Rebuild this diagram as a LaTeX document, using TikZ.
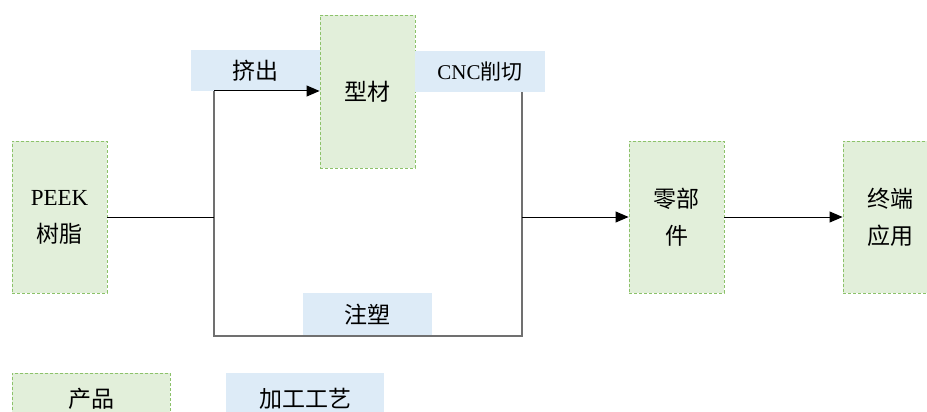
\documentclass[tikz,border=0pt]{standalone}
\usepackage{fontspec}
\setmainfont{Liberation Serif}
\newfontfamily\cjk{Noto Sans CJK SC}
\usetikzlibrary{arrows.meta}
\definecolor{gfill}{HTML}{E2EFDA}
\definecolor{gline}{HTML}{8CC26A}
\definecolor{bfill}{HTML}{DDEBF7}
\definecolor{bracket}{HTML}{707070}
\begin{document}
\begin{tikzpicture}[x=1pt,y=-1pt,
  prod/.style={draw=gline,dash pattern=on 3pt off 2pt,fill=gfill,line width=0.9pt,inner sep=0pt,align=center,font=\fontsize{23}{37}\selectfont},
  proc/.style={fill=bfill,inner sep=0pt,align=center,font=\fontsize{23}{26}\selectfont},
  arr/.style={-{Triangle[length=13pt,width=11pt]},line width=1pt},
  ln/.style={line width=1pt},
  br/.style={draw=bracket,line width=1.3pt}]
\clip (0,0) rectangle (927,412);
\useasboundingbox (0,0) rectangle (927,412);
% products
\node[prod,minimum width=95pt,minimum height=152pt] (peek) at (59.5,217) {PEEK\\{\cjk 树脂}};
\node[prod,minimum width=95pt,minimum height=153pt] (xc) at (367.5,91.5) {\cjk 型材};
\node[prod,minimum width=95pt,minimum height=152pt] (lbj) at (676.5,217) {\cjk 零部\\\cjk 件};
\node[prod,minimum width=95pt,minimum height=152pt] (zd) at (890.5,217) {\cjk 终端\\\cjk 应用};
% process labels
\node[proc,minimum width=129pt,minimum height=41pt] (jc) at (255.5,70.5) {\raisebox{-2pt}{\cjk 挤出}};
\node[proc,minimum width=130pt,minimum height=41pt] (cnc) at (480,71.5) {\raisebox{-2pt}{\fontsize{21}{24}\selectfont CNC{\cjk 削切}}};
% connectors
\coordinate (j) at (214,217);
\coordinate (jt) at (214,91);
\coordinate (jb) at (214,336);
\coordinate (k) at (522,217);
\coordinate (kt) at (522,92);
\coordinate (kb) at (522,336);
\draw[br] (jt) -- (jb) -- (kb) -- (kt);
\node[proc,minimum width=129pt,minimum height=42pt,anchor=south] (zs) at (367.5,335.5) {\raisebox{-2pt}{\cjk 注塑}};
\draw[ln] (peek.east) -- (j);
\draw[arr] (jt) -- (xc.west |- jt);
\draw[arr] (k) -- (lbj.west);
\draw[arr] (lbj.east) -- (zd.west);
% legend
\node[prod,minimum width=158pt,minimum height=60pt,anchor=north west] (lp) at (12,373) {};
\node[font=\fontsize{23}{26}\selectfont\cjk] at (91,399) {产品};
\node[proc,minimum width=158pt,minimum height=60pt,anchor=north west] (lg) at (226,373) {};
\node[font=\fontsize{23}{26}\selectfont\cjk] at (305,399) {加工工艺};
\end{tikzpicture}
\end{document}
